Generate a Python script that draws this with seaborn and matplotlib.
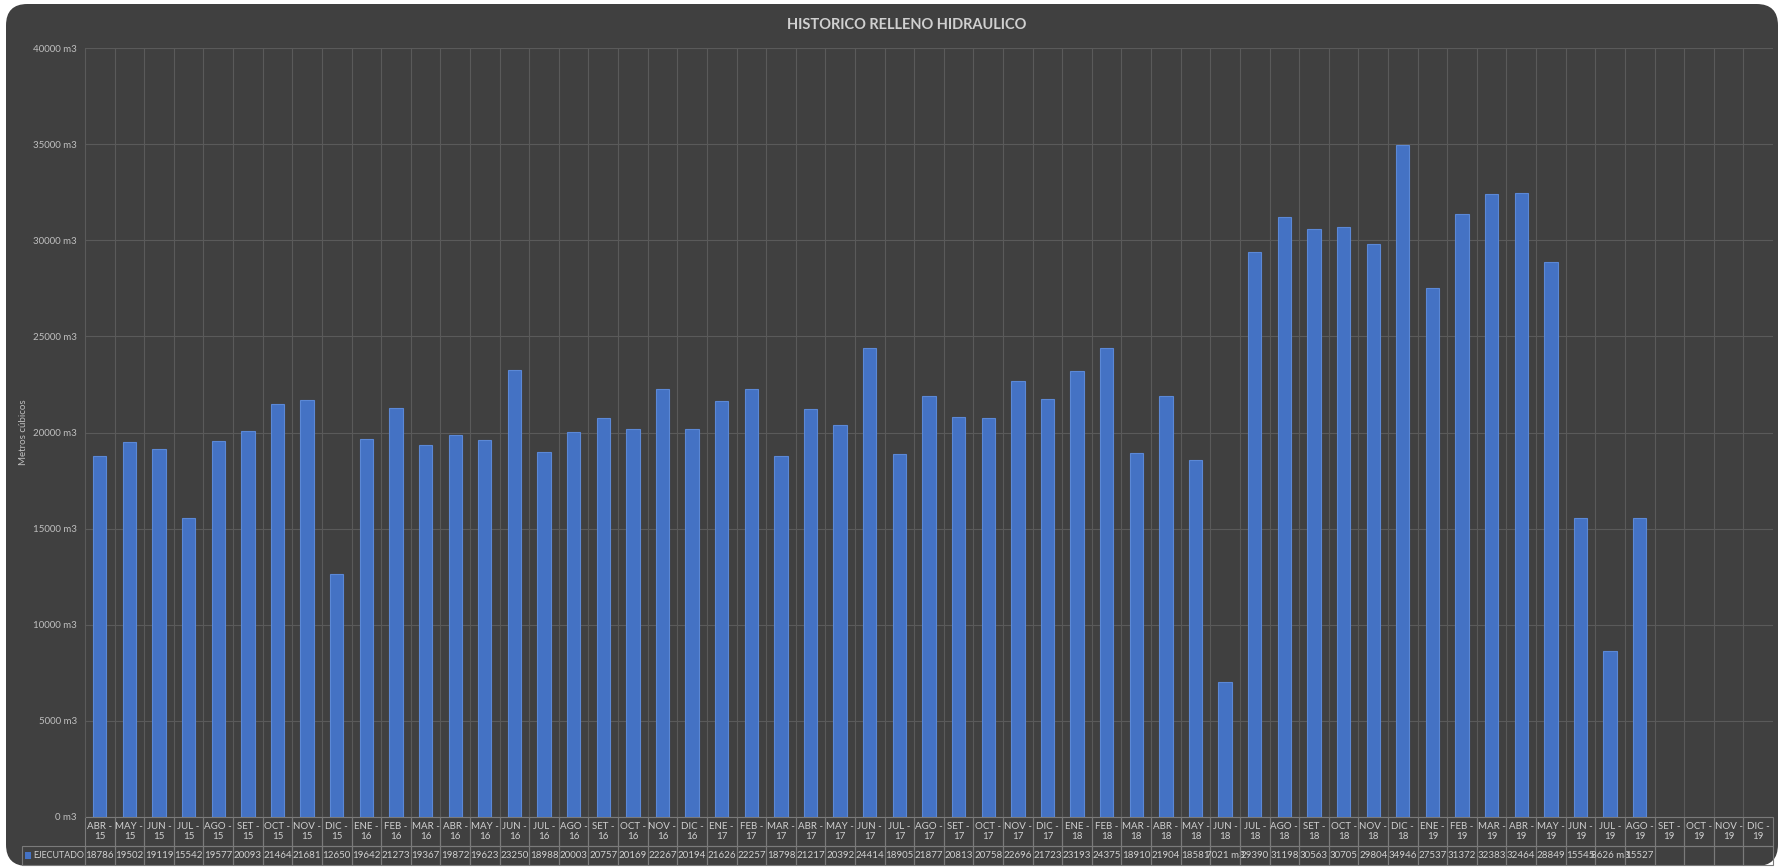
import numpy as np
import pandas as pd
import matplotlib
matplotlib.use("Agg")
import matplotlib.pyplot as plt
from matplotlib.patches import FancyBboxPatch, Rectangle
from matplotlib.ticker import FuncFormatter, MultipleLocator
import seaborn as sns

# datos
MESES = ["ENE", "FEB", "MAR", "ABR", "MAY", "JUN", "JUL", "AGO", "SET", "OCT", "NOV", "DIC"]
ANIOS = [15, 16, 17, 18, 19]
periodos = [f"{m} - {a}" for a in ANIOS for m in MESES][3:]   # ABR-15 .. DIC-19

ejecutado = [18786, 19502, 19119, 15542, 19577, 20093, 21464, 21681, 12650,
             19642, 21273, 19367, 19872, 19623, 23250, 18988, 20003, 20757, 20169, 22267, 20194,
             21626, 22257, 18798, 21217, 20392, 24414, 18905, 21877, 20813, 20758, 22696, 21723,
             23193, 24375, 18910, 21904, 18581, 7021, 29390, 31198, 30563, 30705, 29804, 34946,
             27537, 31372, 32383, 32464, 28849, 15545, 8626, 15527,
             np.nan, np.nan, np.nan, np.nan]
serie = "EJECUTADO"

df = pd.DataFrame({"periodo": periodos, "m3": ejecutado})

BG = "#404040"
GRID = "#5a5a5a"
TXT = "#d0d0d0"
LINEA_TABLA = "#7a7a7a"
AZUL = "#4472C4"

sns.set_style("dark")
plt.rcParams["font.family"] = ["Lato", "DejaVu Sans"]

W, H = 1780, 867
fig = plt.figure(figsize=(W / 100, H / 100), dpi=100)
fig.patch.set_facecolor("white")

# panel oscuro redondeado
panel = FancyBboxPatch((6 / W, 1 / H), (1778 - 6) / W, (H - 5) / H,
                       boxstyle="round,pad=0,rounding_size=0.012",
                       transform=fig.transFigure, facecolor=BG, edgecolor="none",
                       zorder=-10, mutation_aspect=W / H)
fig.patches.append(panel)

ax_l, ax_r, ax_t, ax_b = 85, 1773, 48, 817
ax = fig.add_axes([ax_l / W, (H - ax_b) / H, (ax_r - ax_l) / W, (ax_b - ax_t) / H])
ax.set_facecolor(BG)

sns.barplot(data=df, x="periodo", y="m3", order=periodos, color=AZUL,
            width=0.45, saturation=1, edgecolor="#5b88d6", linewidth=0.8, ax=ax, zorder=3)

ax.set_xlim(-0.5, len(periodos) - 0.5)
ax.set_ylim(0, 40000)
ax.yaxis.set_major_locator(MultipleLocator(5000))
ax.yaxis.set_major_formatter(FuncFormatter(lambda v, p: f"{int(v)} m3"))
ax.set_xticks(np.arange(len(periodos) - 1) + 0.5, minor=True)
ax.set_xticks([])
ax.tick_params(axis="y", length=0, pad=6, labelsize=7, labelcolor="#bfbfbf")
ax.tick_params(axis="x", which="both", length=0)
ax.grid(axis="y", which="major", color=GRID, linewidth=0.8)
ax.grid(axis="x", which="minor", color=GRID, linewidth=0.8)
for s in ["top", "right", "bottom"]:
    ax.spines[s].set_visible(False)
ax.spines["left"].set_color(GRID)
ax.set_xlabel("")
ax.set_ylabel("Metros cúbicos", fontsize=7, color="#bfbfbf")
ax.yaxis.set_label_coords((28 - ax_l) / (ax_r - ax_l), 0.5)

fig.text(907 / W, 1 - 25 / H, "HISTORICO RELLENO HIDRAULICO", ha="center", va="center",
         fontsize=10.5, fontweight="bold", color=TXT)

# tabla de datos
def fmt(v):
    if np.isnan(v):
        return ""
    return f"{v:.0f}" if v >= 10000 else f"{v:.0f} m3"

col_labels = [p.replace(" - ", " -\n") for p in periodos]
cell_text = [[fmt(v) for v in ejecutado]]
ax_w_px = ax_r - ax_l
ax_h_px = ax_b - ax_t
tb_h = (865 - ax_b) / ax_h_px
fila_h = 19 / ax_h_px
tabla = ax.table(cellText=cell_text, colLabels=col_labels, cellLoc="center",
                 bbox=[0, -tb_h, 1, tb_h])
tabla.auto_set_font_size(False)
tabla.set_fontsize(7)
for (r, c), cell in tabla.get_celld().items():
    cell.set_edgecolor(LINEA_TABLA)
    cell.set_facecolor("none")
    cell.set_linewidth(0.8)
    cell.get_text().set_color(TXT)
    cell.set_height(29 if r == 0 else 19)
    cell.set_width(1)
    # textos que no entran en la celda se recortan (como en Excel)
    if r == 1 and cell.get_text().get_text().endswith("m3"):
        cell._loc = "left"
        cell.PAD = 0.02

fig.canvas.draw()
for (r, c), cell in tabla.get_celld().items():
    if r == 1 and cell.get_text().get_text().endswith("m3"):
        cell.get_text().set_clip_path(cell)

# celda de la serie con su cuadrito de leyenda
lab_x = (22 - ax_l) / ax_w_px
ax.add_patch(Rectangle((lab_x, -tb_h), -lab_x, fila_h, transform=ax.transAxes,
                       facecolor="none", edgecolor=LINEA_TABLA, linewidth=0.8, clip_on=False))
ax.add_patch(Rectangle((lab_x + 3 / ax_w_px, -tb_h + 6 / ax_h_px), 6 / ax_w_px, 7 / ax_h_px,
                       transform=ax.transAxes, facecolor=AZUL, edgecolor="none",
                       clip_on=False, zorder=5))
ax.text(lab_x + 11 / ax_w_px, -tb_h + fila_h / 2, serie, transform=ax.transAxes,
        ha="left", va="center", fontsize=6.4, color=TXT, clip_on=False)

plt.savefig("out.png", dpi=100, facecolor=fig.get_facecolor())
